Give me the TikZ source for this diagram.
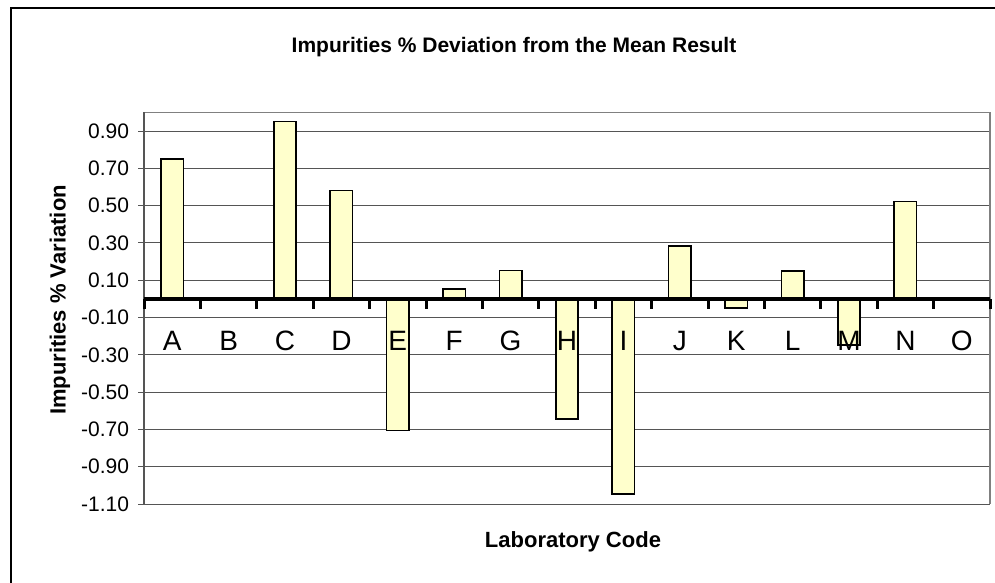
\documentclass[tikz,border=0pt]{standalone}
\usepackage{fontspec}
\setmainfont{Liberation Sans}
\usepackage{tikz}
\definecolor{barfill}{HTML}{FFFFCC}
\definecolor{gridgray}{HTML}{555555}
\newcommand{\px}[1]{\fontsize{#1}{#1}\selectfont}

\begin{document}
\begin{tikzpicture}[x=1pt,y=-1pt,
  labbar/.style={draw=black,fill=barfill,line width=1.6pt},
  gridln/.style={draw=gridgray,line width=1pt},
  ticklbl/.style={anchor=east,inner sep=0.75pt,font=\px{21}},
  catlbl/.style={anchor=center,inner sep=0.75pt,font=\px{28}},
  axlbl/.style={inner sep=0.75pt,font=\px{22}\bfseries}]
\useasboundingbox (0,0) rectangle (995,583);
%Frame
\draw [line width=1.3pt] (11,583) -- (11,8) -- (995,8) ;
%Grid
\draw [gridln] (138,131.05) -- (990,131.05) ;
\draw [gridln] (138,168.35) -- (990,168.35) ;
\draw [gridln] (138,205.65) -- (990,205.65) ;
\draw [gridln] (138,242.95) -- (990,242.95) ;
\draw [gridln] (138,280.25) -- (990,280.25) ;
\draw [gridln] (138,317.55) -- (990,317.55) ;
\draw [gridln] (138,354.85) -- (990,354.85) ;
\draw [gridln] (138,392.15) -- (990,392.15) ;
\draw [gridln] (138,429.45) -- (990,429.45) ;
\draw [gridln] (138,466.75) -- (990,466.75) ;
\draw [gridln] (138,504.05) -- (990,504.05) ;
\draw [draw=gray,line width=1.2pt] (144,112.4) -- (990,112.4) -- (990,504.05) ;
\draw [draw=gridgray,line width=1.2pt] (144,112.4) -- (144,504.05) ;
%Bars
\draw [labbar] (161.0,298.9) rectangle (183.4,159.0) ;
\draw [labbar] (273.8,298.9) rectangle (296.2,121.7) ;
\draw [labbar] (330.2,298.9) rectangle (352.6,190.5) ;
\draw [labbar] (386.6,298.9) rectangle (409.0,430.5) ;
\draw [labbar] (443.0,298.9) rectangle (465.4,288.7) ;
\draw [labbar] (499.4,298.9) rectangle (521.8,270.4) ;
\draw [labbar] (555.8,298.9) rectangle (578.2,419.2) ;
\draw [labbar] (612.2,298.9) rectangle (634.6,494.0) ;
\draw [labbar] (668.6,298.9) rectangle (691.0,246.0) ;
\draw [labbar] (725.0,298.9) rectangle (747.4,307.7) ;
\draw [labbar] (781.4,298.9) rectangle (803.8,270.7) ;
\draw [labbar] (837.8,298.9) rectangle (860.2,345.0) ;
\draw [labbar] (894.2,298.9) rectangle (916.6,201.5) ;
%Axis
\draw [line width=3.2pt] (144,298.9) -- (990,298.9) ;
\draw [line width=3pt] (144,298.9) -- (144,308.5) (200.4,298.9) -- (200.4,308.5) (256.8,298.9) -- (256.8,308.5) (313.2,298.9) -- (313.2,308.5) (369.6,298.9) -- (369.6,308.5) (426,298.9) -- (426,308.5) (482.4,298.9) -- (482.4,308.5) (538.8,298.9) -- (538.8,308.5) (595.2,298.9) -- (595.2,308.5) (651.6,298.9) -- (651.6,308.5) (708,298.9) -- (708,308.5) (764.4,298.9) -- (764.4,308.5) (820.8,298.9) -- (820.8,308.5) (877.2,298.9) -- (877.2,308.5) (933.6,298.9) -- (933.6,308.5) (990,298.9) -- (990,308.5) ;
%Text
\node [ticklbl] (t090) at (130,131.05) {0.90};
\node [ticklbl] (t070) at (130,168.35) {0.70};
\node [ticklbl] (t050) at (130,205.65) {0.50};
\node [ticklbl] (t030) at (130,242.95) {0.30};
\node [ticklbl] (t010) at (130,280.25) {0.10};
\node [ticklbl] (tm010) at (130,317.55) {-0.10};
\node [ticklbl] (tm030) at (130,354.85) {-0.30};
\node [ticklbl] (tm050) at (130,392.15) {-0.50};
\node [ticklbl] (tm070) at (130,429.45) {-0.70};
\node [ticklbl] (tm090) at (130,466.75) {-0.90};
\node [ticklbl] (tm110) at (130,504.05) {-1.10};
\node [catlbl] (labA) at (172.2,341) {A};
\node [catlbl] (labB) at (228.6,341) {B};
\node [catlbl] (labC) at (285.0,341) {C};
\node [catlbl] (labD) at (341.4,341) {D};
\node [catlbl] (labE) at (397.8,341) {E};
\node [catlbl] (labF) at (454.2,341) {F};
\node [catlbl] (labG) at (510.6,341) {G};
\node [catlbl] (labH) at (567.0,341) {H};
\node [catlbl] (labI) at (623.4,341) {I};
\node [catlbl] (labJ) at (679.8,341) {J};
\node [catlbl] (labK) at (736.2,341) {K};
\node [catlbl] (labL) at (792.6,341) {L};
\node [catlbl] (labM) at (849.0,341) {M};
\node [catlbl] (labN) at (905.4,341) {N};
\node [catlbl] (labO) at (961.8,341) {O};
\node [axlbl,font=\px{21}\bfseries] (title) at (514,47) {Impurities \% Deviation from the Mean Result};
\node [axlbl,rotate=90] (ylabel) at (60,300) {Impurities \% Variation};
\node [axlbl] (xlabel) at (573,542) {Laboratory Code};
\end{tikzpicture}
\end{document}
